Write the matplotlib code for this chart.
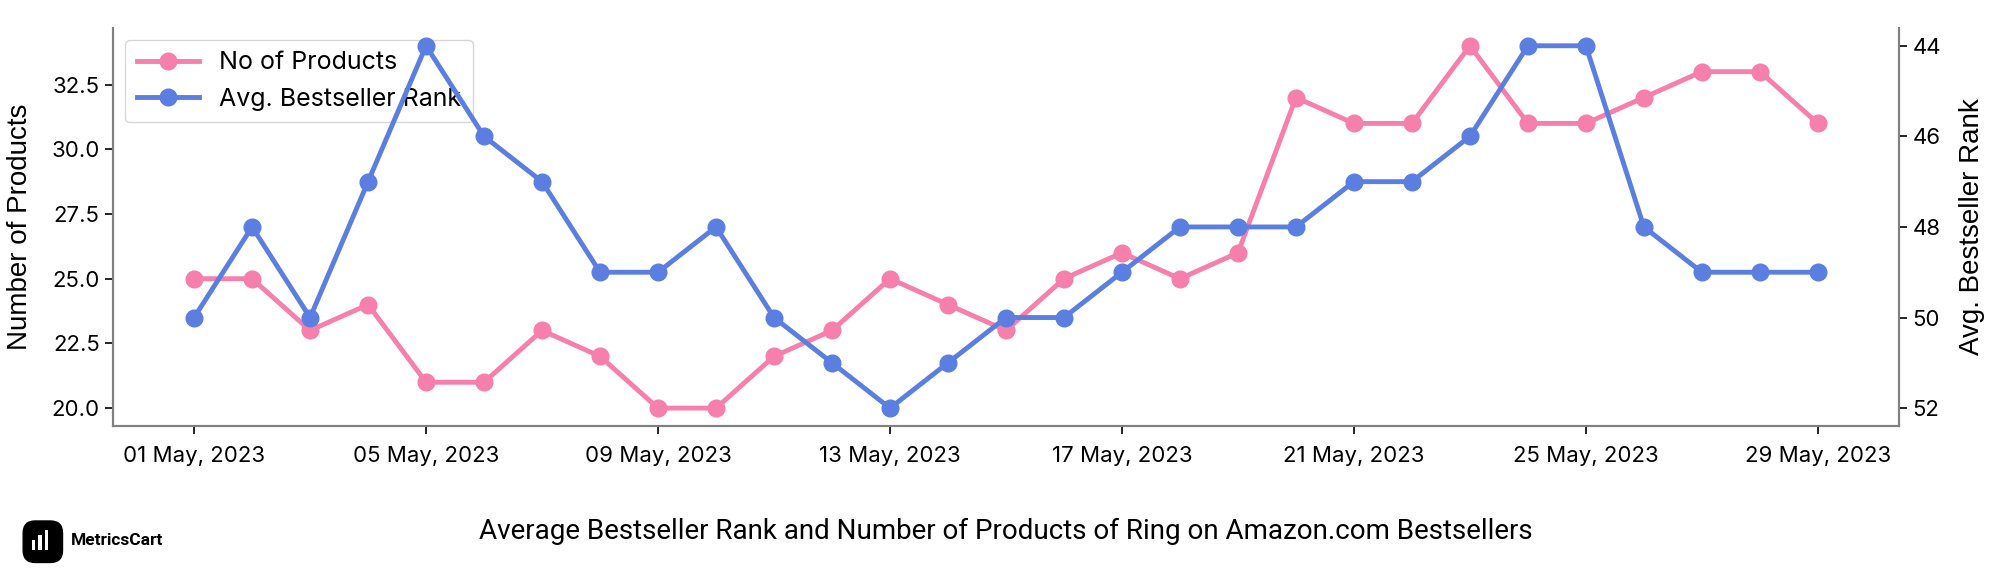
import matplotlib
matplotlib.use("Agg")
import matplotlib.pyplot as plt
import matplotlib.dates as mdates
from matplotlib.patches import FancyBboxPatch, Rectangle
import pandas as pd

dates = pd.date_range("2023-05-01", "2023-05-29", freq="D")
no_of_products = [25, 25, 23, 24, 21, 21, 23, 22, 20, 20, 22, 23, 25, 24, 23,
                  25, 26, 25, 26, 32, 31, 31, 34, 31, 31, 32, 33, 33, 31]
avg_rank = [50, 48, 50, 47, 44, 46, 47, 49, 49, 48, 50, 51, 52, 51, 50,
            50, 49, 48, 48, 48, 47, 47, 46, 44, 44, 48, 49, 49, 49]
title = "Average Bestseller Rank and Number of Products of Ring on Amazon.com Bestsellers"

PINK = "#F67FAB"
BLUE = "#5A7FE0"
FONT = "Inter"

fig = plt.figure(figsize=(20.16, 5.76), dpi=100)
ax = fig.add_axes([0.056, 0.26, 0.886, 0.692])
ax2 = ax.twinx()

l1, = ax.plot(dates, no_of_products, color=PINK, lw=3.5, marker="o", ms=12, label="No of Products")
l2, = ax2.plot(dates, avg_rank, color=BLUE, lw=3.5, marker="o", ms=12, label="Avg. Bestseller Rank")
ax2.invert_yaxis()

ax.set_yticks([20.0, 22.5, 25.0, 27.5, 30.0, 32.5])
ax2.set_yticks([44, 46, 48, 50, 52])
ax.xaxis.set_major_locator(mdates.DayLocator(bymonthday=[1, 5, 9, 13, 17, 21, 25, 29]))
ax.xaxis.set_major_formatter(mdates.DateFormatter("%d %b, %Y"))

for a in (ax, ax2):
    a.spines["top"].set_visible(False)
    for s in ("left", "right", "bottom"):
        a.spines[s].set_color("#808080")
        a.spines[s].set_linewidth(1.5)
    a.tick_params(labelsize=16, length=6, width=1.2)
    for lab in a.get_xticklabels() + a.get_yticklabels():
        lab.set_fontfamily(FONT)
ax.tick_params(axis="x", pad=8)

ax.set_ylabel("Number of Products", fontsize=20, family="Liberation Sans", labelpad=13)
ax2.set_ylabel("Avg. Bestseller Rank", fontsize=20, family="Liberation Sans", labelpad=13)

leg = ax.legend(handles=[l1, l2], loc="upper left",
                prop={"family": FONT, "size": 18}, framealpha=0.8,
                handlelength=2.5, borderpad=0.45, labelspacing=0.55)

fig.text(0.499, 0.078, title, ha="center", va="center", fontsize=20, family="Roboto")

# logo
logo = FancyBboxPatch((0.0125, 0.027), 0.0175, 0.065, boxstyle="round,pad=0.001,rounding_size=0.006",
                      transform=fig.transFigure, facecolor="black", edgecolor="black",
                      mutation_aspect=2016 / 576)
fig.patches.append(logo)
for i, h in enumerate([0.018, 0.026, 0.034]):
    fig.patches.append(Rectangle((0.0158 + i * 0.0032, 0.045), 0.0016, h,
                                 transform=fig.transFigure, facecolor="white"))
fig.text(0.035, 0.061, "MetricsCart", ha="left", va="center", fontsize=12.5,
         fontweight="bold", family="Roboto")

fig.savefig("out.png", dpi=100)
